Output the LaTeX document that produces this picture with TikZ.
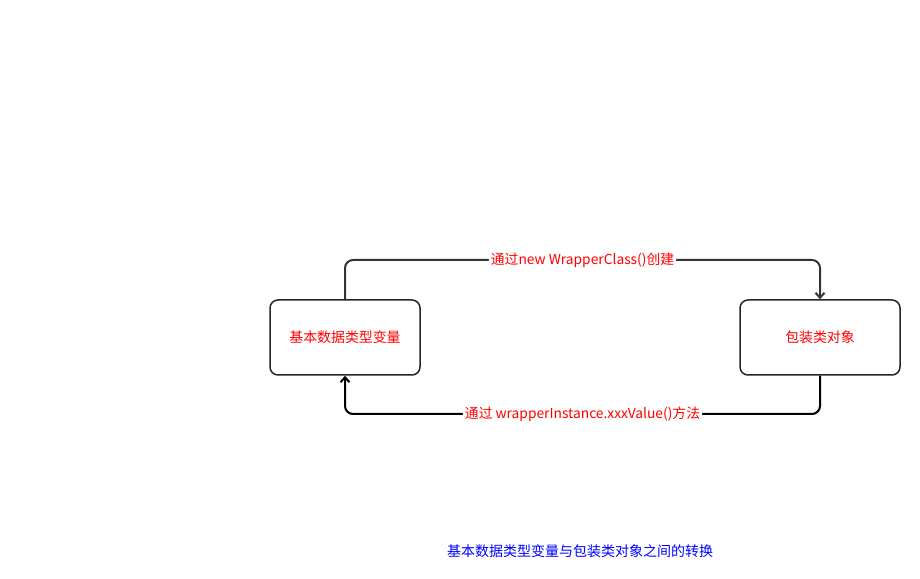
\documentclass[tikz,border=0pt]{standalone}
\usepackage{fontspec}
\setmainfont{Noto Sans CJK SC}
\usetikzlibrary{arrows.meta}
\tikzstyle{box}=[draw=black!85, line width=1.5pt, rounded corners=8pt, fill=white, text=red, font=\fontsize{13.9}{16}\selectfont]
\tikzstyle{conn}=[line width=2pt, rounded corners=8pt, -{Straight Barb[length=5pt,width=9pt]}]
\tikzstyle{lbl}=[fill=white, text=red, inner sep=2pt, font=\fontsize{13.8}{16}\selectfont]

\begin{document}
\begin{tikzpicture}[x=1pt,y=1pt]
\useasboundingbox ( 0 , 0 ) rectangle ( 920 , 578 );
\node[box, minimum width=150pt, minimum height=75pt] (prim) at ( 345 , 240.5 ){基本数据类型变量};
\node[box, minimum width=160pt, minimum height=75pt] (wrap) at ( 820 , 240.5 ){包装类对象};
\coordinate (top) at ( 0 , 318 );
\coordinate (bot) at ( 0 , 164 );
\draw[conn, draw=black!80] (prim.north) -- (prim.north |- top) -- node[lbl]{通过new WrapperClass()创建} (wrap.north |- top) -- (wrap.north);
\draw[conn, draw=black] (wrap.south) -- (wrap.south |- bot) -- node[lbl]{通过 wrapperInstance.xxxValue()方法} (prim.south |- bot) -- (prim.south);
\node[text=blue, font=\fontsize{14}{16}\selectfont] (title) at ( 580 , 27 ){基本数据类型变量与包装类对象之间的转换};
\end{tikzpicture}
\end{document}
